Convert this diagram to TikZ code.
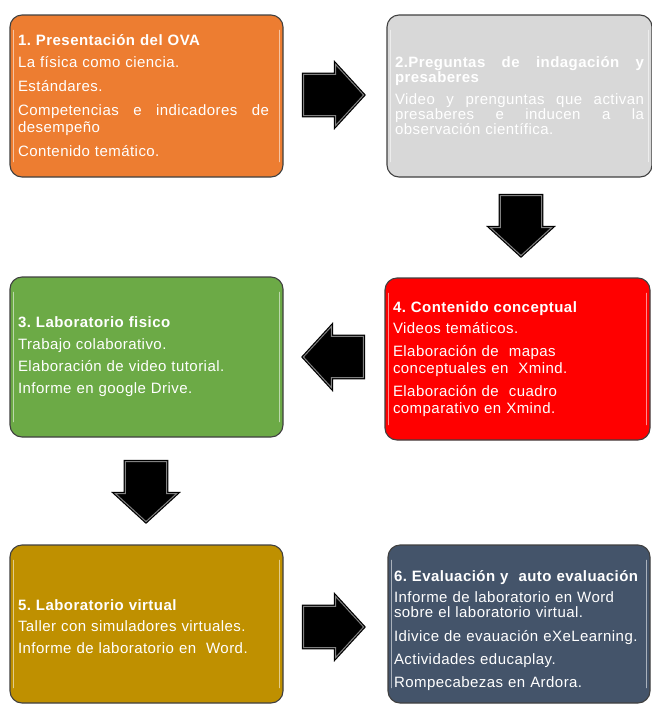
\documentclass[tikz,border=0pt]{standalone}
\usepackage{fontspec}
\setmainfont{Liberation Sans}[LetterSpace=3]
\usetikzlibrary{shapes.arrows}

\definecolor{stageorange}{RGB}{237,125,49}
\definecolor{stagegray}{RGB}{216,216,216}
\definecolor{stagegreen}{RGB}{108,170,70}
\definecolor{stagered}{RGB}{255,0,0}
\definecolor{stagegold}{RGB}{191,144,0}
\definecolor{stageslate}{RGB}{68,84,106}

\tikzset{
  stage/.style={draw=black!75, line width=1.1pt, rounded corners=12pt,
    inner xsep=8pt, inner ysep=4pt, text=white, align=left,
    font=\fontsize{15}{17}\selectfont\frenchspacing},
  shine/.style={white, opacity=0.55, line width=1.6pt, line cap=round},
  flowarrow/.style={single arrow, fill=black, draw=black, double=black!50,
    double distance=1pt, line width=1.2pt, inner xsep=0pt, inner ysep=20pt,
    minimum height=60pt, single arrow head extend=10pt,
    single arrow tip angle=95, anchor=tail},
}

% a justified line: the words are spread over the given width
\newcommand{\fullline}[2]{\leavevmode\hbox to #1{#2}}
\newcommand{\gap}{\hfill}

\begin{document}
\begin{tikzpicture}[x=1pt, y=-1pt]
  \useasboundingbox (0,0) rectangle (652,705);

  % stage boxes
  \node[stage, fill=stageorange, minimum width=273pt, minimum height=162pt,
        text width=257pt] (b1) at (146.5,96) {%
    \textbf{1. Presentación del OVA}\\[5pt]
    La física como ciencia.\\[7pt]
    Estándares.\\[7pt]
    \fullline{251pt}{Competencias\gap e\gap indicadores\gap de}\\
    desempeño\\[7pt]
    Contenido temático.};

  \node[stage, fill=stagegray, minimum width=263pt, minimum height=162pt,
        text width=249pt, font=\fontsize{15}{15}\selectfont\frenchspacing] (b2) at (519.5,96) {%
    \fullline{249pt}{\bfseries 2.Preguntas\gap de\gap indagación\gap y}\\
    \textbf{presaberes}\\[7pt]
    \fullline{249pt}{Video\gap y\gap prenguntas\gap que\gap activan}\\
    \fullline{249pt}{presaberes\gap e\gap inducen\gap a\gap la}\\
    observación científica.};

  \node[stage, fill=stagegreen, minimum width=273pt, minimum height=160pt,
        text width=257pt] (b3) at (146.5,357) {%
    \textbf{3. Laboratorio fisico}\\[5pt]
    Trabajo colaborativo.\\[5pt]
    Elaboración de video tutorial.\\[5pt]
    Informe en google Drive.};

  \node[stage, fill=stagered, minimum width=265pt, minimum height=162pt,
        text width=249pt] (b4) at (517.5,359) {%
    \textbf{4. Contenido conceptual}\\[4pt]
    Videos temáticos.\\[6pt]
    Elaboración de \ mapas\\
    conceptuales en \ Xmind.\\[6pt]
    Elaboración de \ cuadro\\
    comparativo en Xmind.};

  \node[stage, fill=stagegold, minimum width=273pt, minimum height=158pt,
        text width=257pt] (b5) at (146.5,624) {%
    \rule{0pt}{17pt}\textbf{5. Laboratorio virtual}\\[4pt]
    Taller con simuladores virtuales.\\[5pt]
    Informe de laboratorio en \ Word.};

  \node[stage, fill=stageslate, minimum width=262pt, minimum height=158pt,
        text width=250pt, inner xsep=5pt] (b6) at (519,624) {%
    \rule{0pt}{25pt}\textbf{6. Evaluación y \ auto evaluación}\\[4pt]
    Informe de laboratorio en Word\\[-2pt]
    sobre el laboratorio virtual.\\[7pt]
    Idivice de evauación eXeLearning.\\[6pt]
    Actividades educaplay.\\[6pt]
    Rompecabezas en Ardora.};

  % light edge highlights on the boxes
  \foreach \b in {b1,b2,b3,b4,b5,b6}{
    \draw[shine] ([xshift=4pt,yshift=-16pt]\b.north west) -- ([xshift=4pt,yshift=16pt]\b.south west);
    \draw[shine] ([xshift=-4pt,yshift=-16pt]\b.north east) -- ([xshift=-4pt,yshift=16pt]\b.south east);
  }

  % block arrows between the stages (placed by their tails)
  \node[flowarrow] (a12) at (303,95) {};
  \node[flowarrow, rotate=-90] (a24) at (521,195) {};
  \node[flowarrow, rotate=180] (a43) at (364,357) {};
  \node[flowarrow, rotate=-90] (a35) at (146,461) {};
  \node[flowarrow] (a56) at (303,627) {};
\end{tikzpicture}
\end{document}
